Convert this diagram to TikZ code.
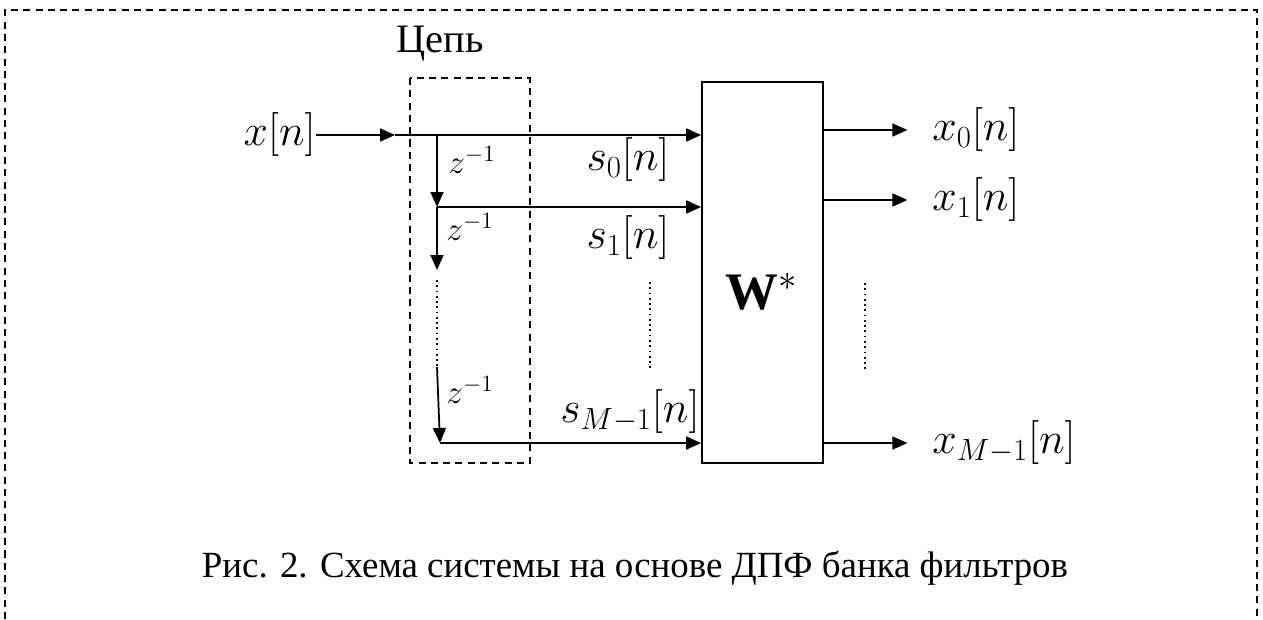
\documentclass[tikz,border=0pt]{standalone}
\usepackage{fix-cm}
\usepackage{fontspec}
\setmainfont{Liberation Serif}
\usetikzlibrary{arrows.meta}
\tikzset{
  sig/.style={line width=1pt, -{Triangle[length=3mm,width=2.6mm]}},
  wire/.style={line width=1pt},
  dashframe/.style={line width=1pt, dash pattern=on 4pt off 3pt},
  lbl/.style={inner sep=0pt, font=\fontsize{25}{29}\selectfont},
  txt/.style={inner sep=0pt, font=\fontsize{21}{25}\selectfont},
  dly/.style={inner sep=0pt, font=\fontsize{19}{22}\selectfont},
}
\begin{document}
\begin{tikzpicture}[x=0.02cm, y=-0.02cm]
  %%%%% START %%%%%
  \useasboundingbox (0,0) rectangle (1263,619);

  % outer frame (open at the bottom)
  \draw[dashframe] (5,619) -- (5,10) -- (1257,10) -- (1257,619);

  % delay chain
  \draw[dashframe, line width=0.8pt] (410,78) rectangle (530,463);
  \node[txt, font=\fontsize{23}{27}\selectfont] (chain) at (440,44) {Цепь};

  % weighting block
  \node[draw, line width=1pt, minimum width=2.42cm, minimum height=7.62cm] (W) at (762.5,272.5) {};
  \node[inner sep=0pt, font=\fontsize{30}{34}\selectfont] (Wl) at (762,292) {$\mathbf{W}^{*}$};

  % input
  \node[lbl, anchor=east] (xn) at (316,135) {$x[n]$};
  \coordinate (in) at (395,135);
  \coordinate (t0) at (437,135);
  \coordinate (t1) at (437,207);
  \coordinate (d0) at (437,270);
  \coordinate (d1) at (437,280);
  \coordinate (d2) at (437,367);
  \coordinate (t2) at (440,443);

  \draw[sig] (xn.east) -- (in);
  \draw[sig] (in) -- (W.west |- in);
  \draw[sig] (t0) -- (t1);
  \draw[sig] (t1) -- (W.west |- t1);
  \draw[sig] (t1) -- (d0);
  \draw[wire, dotted] (d1) -- (d2);
  \draw[sig] (d2) -- (t2);
  \draw[sig] (t2) -- (W.west |- t2);

  \node[dly] (z0) at (472,160) {$z^{-1}$};
  \node[dly] (z1) at (470,227) {$z^{-1}$};
  \node[dly] (z2) at (470,390) {$z^{-1}$};

  \node[lbl] (s0) at (628,160) {$s_0[n]$};
  \node[lbl] (s1) at (628,238) {$s_1[n]$};
  \node[lbl] (sM) at (630,412) {$s_{M-1}[n]$};
  \draw[wire, dotted] (650,282) -- (650,368);

  % outputs
  \node[lbl, anchor=west] (x0) at (932,130) {$x_0[n]$};
  \node[lbl, anchor=west] (x1) at (932,200) {$x_1[n]$};
  \node[lbl, anchor=west] (xM) at (932,443) {$x_{M-1}[n]$};
  \draw[sig] (W.east |- x0) -- ([xshift=-14]x0.west);
  \draw[sig] (W.east |- x1) -- ([xshift=-14]x1.west);
  \draw[sig] (W.east |- xM) -- ([xshift=-14]xM.west);
  \draw[wire, dotted] (865,283) -- (865,370);

  % caption
  \node[txt] (cap) at (635,568) {Рис. 2. Схема системы на основе ДПФ банка фильтров};
  %%%%% END %%%%%
\end{tikzpicture}
\end{document}
